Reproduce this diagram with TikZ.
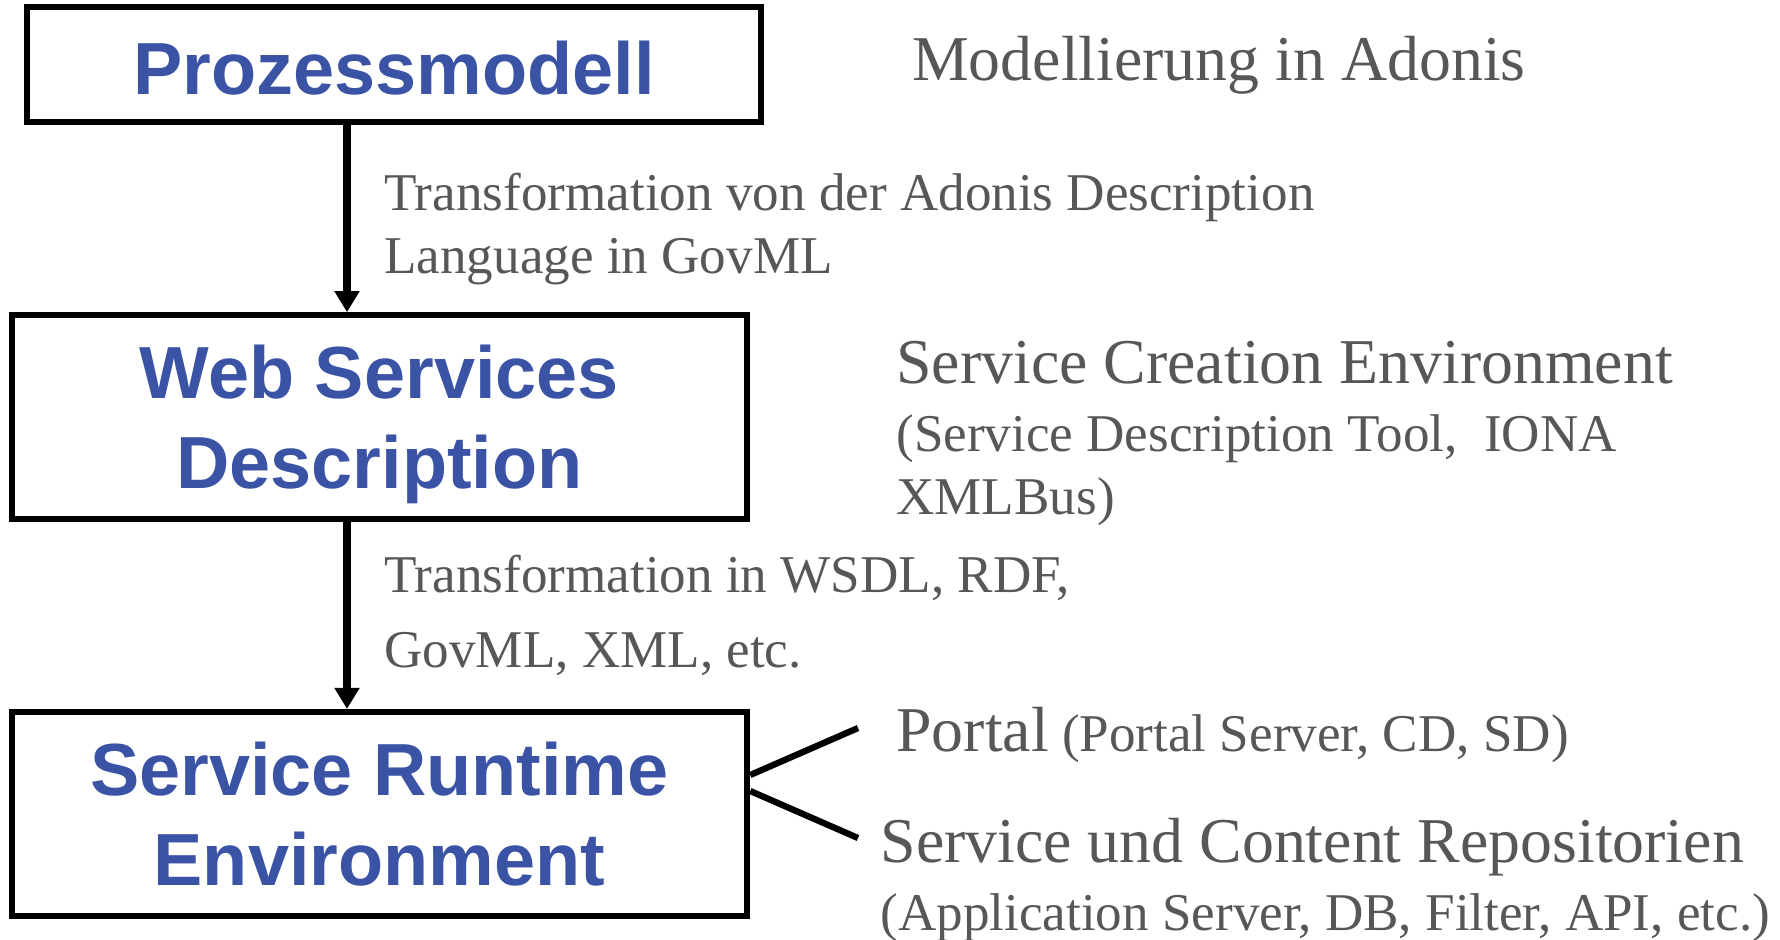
\documentclass[tikz,border=0pt]{standalone}
\usepackage{fontspec}
\setmainfont{Liberation Serif}
\newfontfamily\boxfont{Liberation Sans}
\usetikzlibrary{arrows.meta}
\definecolor{titleblue}{HTML}{3A53A4}
\definecolor{notegray}{HTML}{575757}
\newcommand{\bigsz}{\fontsize{18.15pt}{21.8pt}\selectfont}
\newcommand{\smallsz}{\fontsize{15.1pt}{18.1pt}\selectfont}
\begin{document}
\begin{tikzpicture}[x=0.01cm,y=-0.01cm,
  stage/.style={draw=black,line width=1.7pt,inner sep=0pt,align=center,
    text depth=0pt,text=titleblue,
    font=\boxfont\bfseries\fontsize{21pt}{25.6pt}\selectfont},
  note/.style={anchor=base west,inner sep=0pt,text=notegray,font=\smallsz},
  bignote/.style={note,font=\bigsz},
  flow/.style={line width=2.3pt,-{Triangle[length=6pt,width=6.8pt]}},
  branch/.style={line width=1.8pt}]
\useasboundingbox (0,0) rectangle (1780,939);

% the three stages
\node[stage,minimum width=7.34cm,minimum height=1.147cm,text height=16.7pt] (model) at (394,64.7) {Prozessmodell};
\node[stage,minimum width=7.353cm,minimum height=2.035cm] (wsd) at (379.4,417) {Web Services\\Description};
\node[stage,minimum width=7.353cm,minimum height=2.04cm] (sre) at (379.4,814) {Service Runtime\\Environment};

% vertical flow between the stages
\coordinate (axis) at (347,0);
\draw[flow] (model.south -| axis) -- (wsd.north -| axis);
\draw[flow] (wsd.south -| axis) -- (sre.north -| axis);

% notes beside the stages
\node[bignote] (adonis) at (911.5,80.6) {Modellierung in Adonis};
\node[note] (tr1a) at (383.7,210) {Transformation von der Adonis Description};
\node[note] (tr1b) at (383.7,273.6) {Language in GovML};
\node[bignote] (sce) at (895.7,383.7) {Service Creation Environment};
\node[note] (sdt) at (895.7,451.8) {(Service Description Tool,\ \ IONA};
\node[note] (xmlbus) at (895.7,514) {XMLBus)};
\node[note] (tr2a) at (383.7,592.6) {Transformation in WSDL, RDF,};
\node[note] (tr2b) at (383.7,667.5) {GovML, XML, etc.};
\node[note] (portal) at (895.7,751.5) {{\bigsz Portal} (Portal Server, CD, SD)};
\node[bignote] (repo) at (879.8,862.8) {Service und Content Repositorien};
\node[note] (appsrv) at (879.8,930) {(Application Server, DB, Filter, API, etc.)};

% branches from the runtime environment
\coordinate (portalend) at (858,728);
\coordinate (repoend) at (858,838);
\draw[branch] ([yshift=0.39cm]sre.east) -- (portalend);
\draw[branch] ([yshift=0.23cm]sre.east) -- (repoend);
\end{tikzpicture}
\end{document}
